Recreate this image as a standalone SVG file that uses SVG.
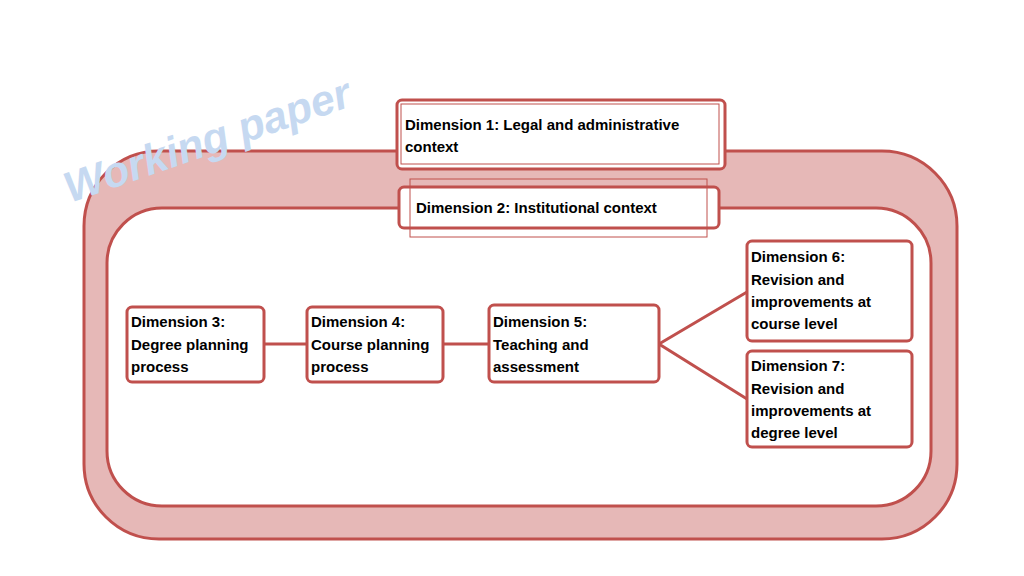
<svg xmlns="http://www.w3.org/2000/svg" width="1024" height="576" viewBox="0 0 1024 576">
<style>
.box{fill:#fff;stroke:#c0504d;stroke-width:3}
.t{font-family:"Liberation Sans",Arial,sans-serif;font-weight:bold;font-size:15px;fill:#000}
.thin{fill:none;stroke:#c0504d;stroke-width:1}
.c{stroke:#c0504d;stroke-width:3;fill:none}
</style>
<rect width="1024" height="576" fill="#fff"/>
<g id="frame">
<rect x="84" y="151" width="873" height="388" rx="75" fill="#e6b8b7" stroke="#c0504d" stroke-width="3"/>
<rect x="107" y="208" width="824" height="298" rx="55" fill="#fff" stroke="#c0504d" stroke-width="3"/>
</g>
<text x="70" y="203" transform="rotate(-19 70 203)" font-family="Liberation Sans,Arial,sans-serif" font-weight="bold" font-style="italic" font-size="43" fill="#c6d9f1">Working paper</text>
<g id="connectors">
<line class="c" x1="264" y1="344" x2="307" y2="344"/>
<line class="c" x1="443" y1="344" x2="489" y2="344"/>
<polyline class="c" points="747,292 659,344 747,399"/>
</g>
<g id="d1"><rect class="box" x="397" y="100" width="328" height="69" rx="5"/><rect class="thin" x="401" y="104" width="318" height="60"/>
<text class="t" x="405" y="130">Dimension 1:  Legal and administrative</text><text class="t" x="405" y="152">context</text></g>
<g id="d2"><rect class="box" x="399" y="187" width="320" height="41" rx="5"/><rect class="thin" x="410" y="179" width="297" height="58"/>
<text class="t" x="416" y="213">Dimension 2:  Institutional context</text></g>
<g id="d3"><rect class="box" x="127" y="307" width="137" height="75" rx="5"/>
<text class="t" x="131" y="327">Dimension 3:</text><text class="t" x="131" y="350">Degree planning</text><text class="t" x="131" y="372">process</text></g>
<g id="d4"><rect class="box" x="307" y="307" width="136" height="75" rx="5"/>
<text class="t" x="311" y="327">Dimension 4:</text><text class="t" x="311" y="350">Course planning</text><text class="t" x="311" y="372">process</text></g>
<g id="d5"><rect class="box" x="489" y="305" width="170" height="77" rx="5"/>
<text class="t" x="493" y="327">Dimension 5:</text><text class="t" x="493" y="350">Teaching and</text><text class="t" x="493" y="372">assessment</text></g>
<g id="d6"><rect class="box" x="747" y="241" width="165" height="100" rx="5"/>
<text class="t" x="751" y="262">Dimension 6:</text><text class="t" x="751" y="285">Revision and</text><text class="t" x="751" y="307">improvements at</text><text class="t" x="751" y="329">course level</text></g>
<g id="d7"><rect class="box" x="747" y="351" width="165" height="96" rx="5"/>
<text class="t" x="751" y="371">Dimension 7:</text><text class="t" x="751" y="394">Revision and</text><text class="t" x="751" y="416">improvements at</text><text class="t" x="751" y="438">degree level</text></g>
</svg>
